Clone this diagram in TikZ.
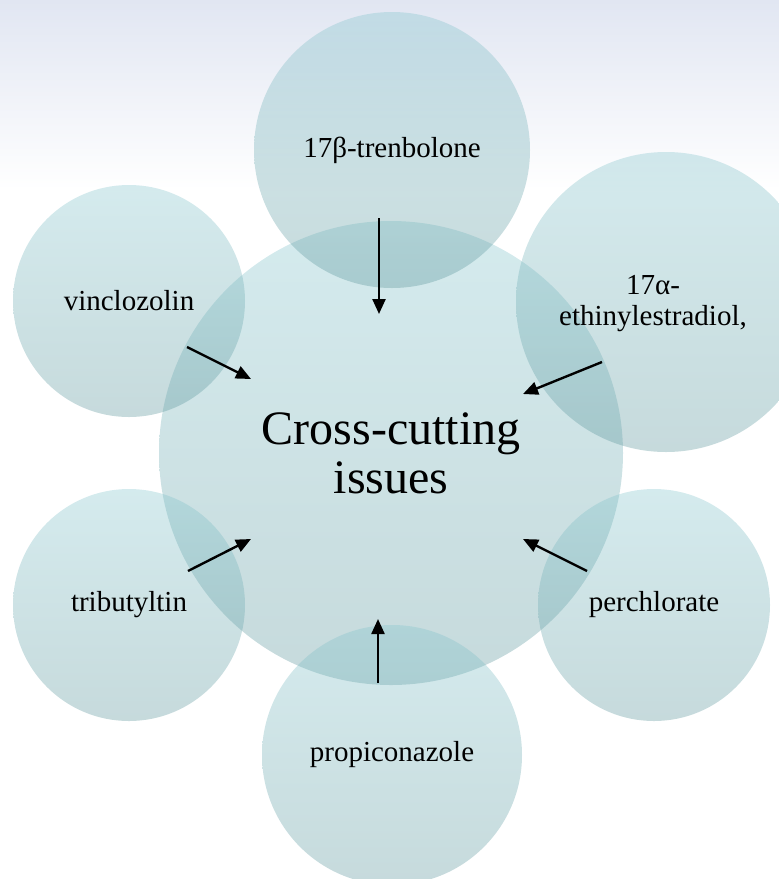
\documentclass[tikz,border=0pt]{standalone}
\usepackage{fontspec}
\setmainfont{Liberation Serif}
\usepackage{tikz}
\usetikzlibrary{arrows.meta, positioning, shapes.geometric, calc, backgrounds}

\definecolor{bgtop}{RGB}{225,230,242}
\definecolor{bubbletop}{RGB}{130,196,204}
\definecolor{bubblebottom}{RGB}{88,146,152}

\begin{document}
\begin{tikzpicture}[
        x=1pt, y=-1pt,
        every node/.style={font=\fontsize{29}{31}\selectfont},
        bubble/.style={circle, inner sep=0pt, top color=bubbletop, bottom color=bubblebottom,
            fill opacity=0.34, text opacity=1, align=center},
        hub/.style={bubble, font=\fontsize{48}{49}\selectfont},
        lbl/.style={align=center, text opacity=1, fill opacity=1},
        link/.style={draw, line width=2.4pt, -{Triangle[length=15pt,width=13pt]}}
    ]
        \useasboundingbox (0,0) rectangle (779,879);
        \shade[top color=bgtop, bottom color=white] (0,0) rectangle (779,190);

        % Bubbles
        \node[hub, minimum size=464pt] (cross) at (391,453) {Cross-cutting\\issues};
        \node[bubble, minimum size=276pt] (tren) at (392,150) {17β-trenbolone};
        \node[bubble, minimum size=300pt,
              label={[lbl, xshift=-13pt, yshift=-2pt]center:{17α-\\ethinylestradiol,}}] (ethinyl) at (666,302) {};
        \node[bubble, minimum size=232pt] (vinc) at (129,301) {vinclozolin};
        \node[bubble, minimum size=232pt] (tribu) at (129,605) {tributyltin};
        \node[bubble, minimum size=232pt] (perch) at (654,605) {perchlorate};
        \node[bubble, minimum size=260pt] (propi) at (392,755) {propiconazole};

        % Arrow ends
        \coordinate (trenout) at (379,218);
        \coordinate (trenin) at (379,314);
        \coordinate (vincout) at (187,347);
        \coordinate (vincin) at (251,379);
        \coordinate (ethout) at (602,362);
        \coordinate (ethin) at (523,394);
        \coordinate (tribout) at (188,571);
        \coordinate (tribin) at (251,539);
        \coordinate (perchout) at (587,571);
        \coordinate (perchin) at (523,539);
        \coordinate (propout) at (378,683);
        \coordinate (propin) at (378,619);

        % Arrows
        \draw[link] (trenout) -- (trenin);
        \draw[link] (vincout) -- (vincin);
        \draw[link] (ethout) -- (ethin);
        \draw[link] (tribout) -- (tribin);
        \draw[link] (perchout) -- (perchin);
        \draw[link] (propout) -- (propin);
    \end{tikzpicture}
\end{document}
